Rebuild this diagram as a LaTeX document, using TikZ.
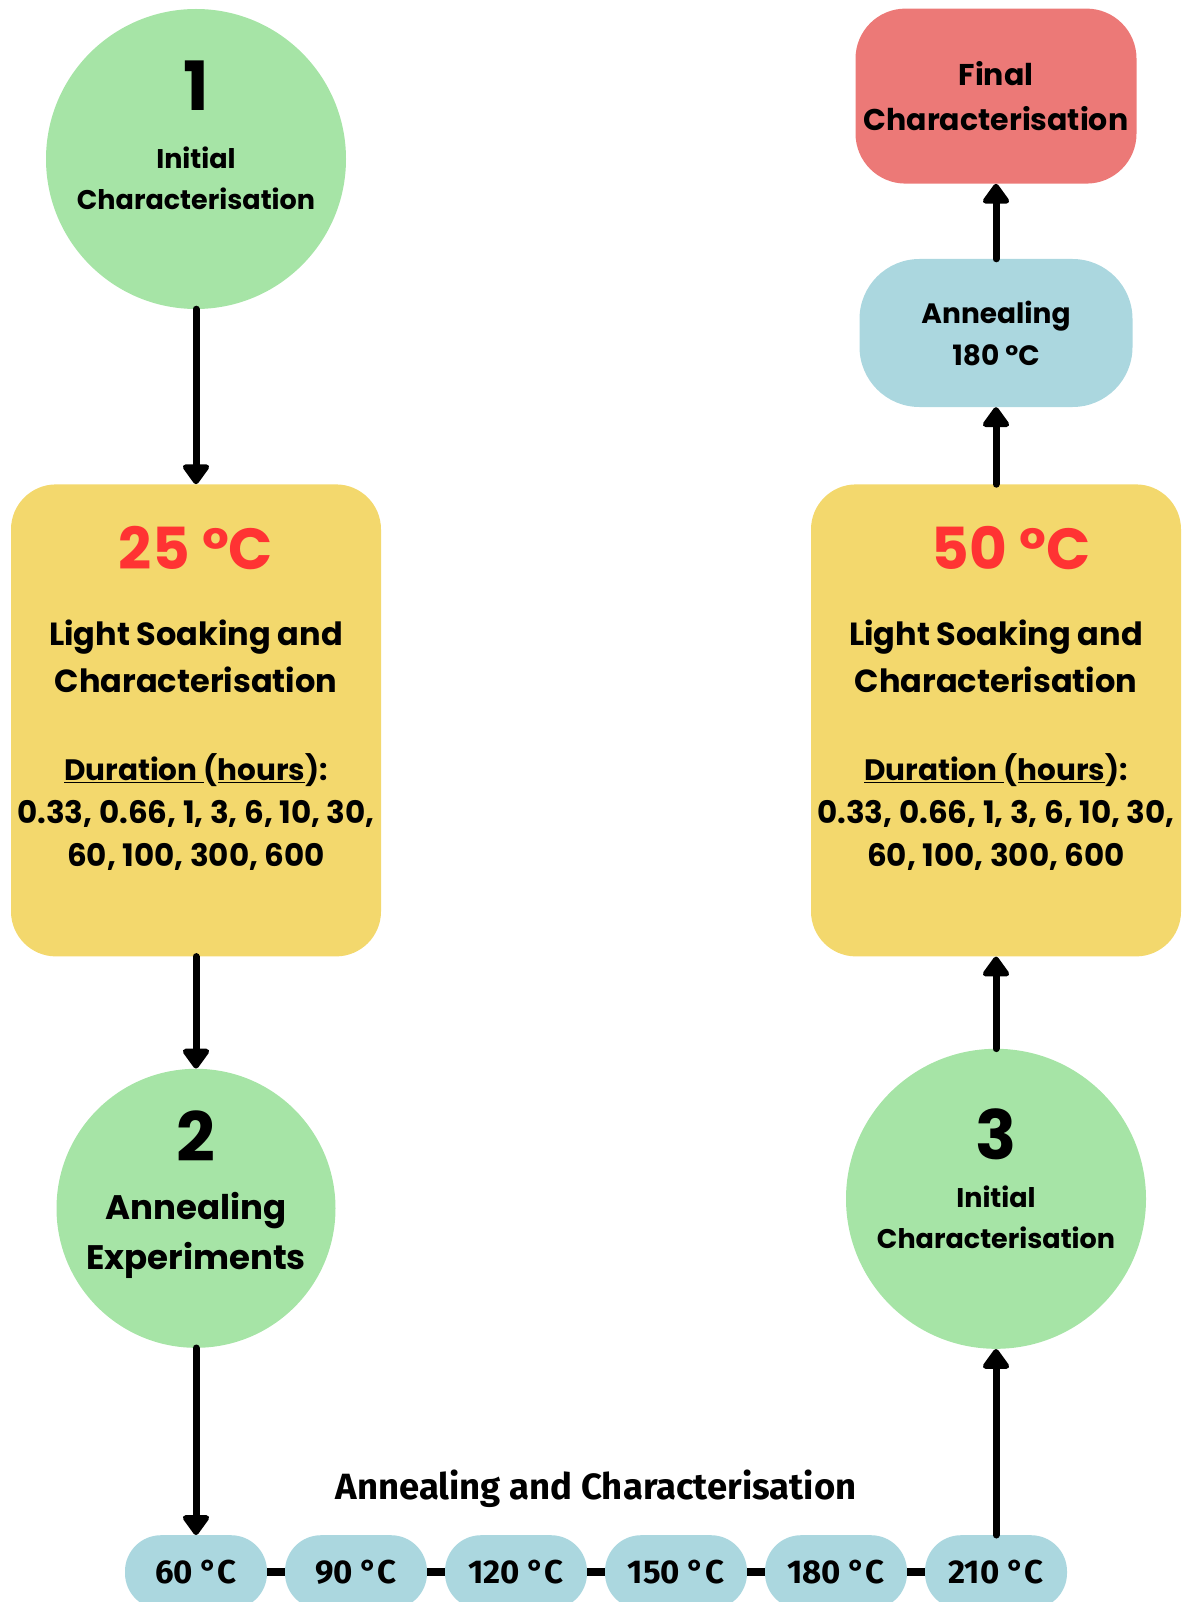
\documentclass[tikz,border=0pt]{standalone}
\usepackage{fontspec}
\setmainfont{Poppins}
\newfontfamily\platefont{Fira Sans}
\usetikzlibrary{positioning, arrows.meta, calc}

\definecolor{stagegreen}{HTML}{A6E4A6}
\definecolor{soakyellow}{HTML}{F3D86D}
\definecolor{finalred}{HTML}{EC7977}
\definecolor{annealblue}{HTML}{ABD7DF}
\definecolor{tempred}{HTML}{FF3333}

\begin{document}
\begin{tikzpicture}[
  x=1pt, y=1pt,
  stage/.style={circle, fill=stagegreen, minimum size=300pt, inner sep=0pt},
  soak/.style={rectangle, rounded corners=45pt, fill=soakyellow,
               minimum width=370pt, minimum height=472pt},
  holdbox/.style={rectangle, rounded corners=60pt, fill=annealblue,
               minimum width=273pt, minimum height=148pt, align=center,
               font=\bfseries\fontsize{28}{42}\selectfont},
  finalbox/.style={rectangle, rounded corners=50pt, fill=finalred,
                minimum width=281pt, minimum height=175pt, align=center,
                font=\bfseries\fontsize{30}{45}\selectfont},
  pill/.style={rectangle, rounded corners=36pt, fill=annealblue,
               minimum width=142pt, minimum height=74pt,
               font=\platefont\bfseries\fontsize{33}{38}\selectfont},
  stagenum/.style={inner sep=0pt, font=\bfseries\fontsize{68}{68}\selectfont},
  stagecap/.style={inner sep=0pt, align=center, font=\bfseries\fontsize{27}{41}\selectfont},
  bigcap/.style={inner sep=0pt, align=center, font=\bfseries\fontsize{34}{50}\selectfont},
  templine/.style={inner sep=0pt, text=tempred, font=\bfseries\fontsize{58}{58}\selectfont},
  soakhead/.style={inner sep=0pt, align=center, font=\bfseries\fontsize{32}{47}\selectfont},
  durlist/.style={inner sep=0pt, align=center, font=\bfseries\fontsize{31}{43}\selectfont},
  platehdr/.style={inner sep=0pt, font=\platefont\bfseries\fontsize{36.5}{40}\selectfont},
  flow/.style={-{Triangle[width=30pt, length=22pt, round]}, line width=7pt, line cap=round},
  link/.style={line width=8pt},
]
\useasboundingbox (0,0) rectangle (1186,-1602);

% ------------------- LEFT COLUMN (25 C run) -------------------
\node[stage] (init1) at (196,-159) {};
\node[stagenum, below=52pt of init1.north] (init1num) {1};
\node[stagecap, below=36pt of init1num] (init1cap) {Initial\\Characterisation};

\node[soak, below=175pt of init1] (soak25) {};
\node[templine, below=42pt of soak25.north] (soak25temp) {25 °C};
\node[soakhead, below=50pt of soak25temp] (soak25head) {Light Soaking and\\Characterisation};
\node[durlist, below=60pt of soak25head] (soak25dur)
  {{\fontsize{29.5}{43}\selectfont\underline{Duration\ }(\underline{hours}):}\\0.33, 0.66, 1, 3, 6, 10, 30,\\60, 100, 300, 600};

\node[stage, minimum size=279pt, below=112pt of soak25] (anneal) {};
\node[stagenum, below=42pt of anneal.north] (annealnum) {2};
\node[bigcap, below=30pt of annealnum] (annealcap) {Annealing\\Experiments};

\draw[flow] (init1) -- (soak25);
\draw[flow] (soak25) -- (anneal);

% ------------------- ANNEALING STEPS (bottom row) -------------------
\node[pill, below=187pt of anneal] (t60) {60 °C};
\node[pill, right=17.6pt of t60] (t90) {90 °C};
\node[pill, right=17.6pt of t90] (t120) {120 °C};
\node[pill, right=17.6pt of t120] (t150) {150 °C};
\node[pill, right=17.6pt of t150] (t180) {180 °C};
\node[pill, right=17.6pt of t180] (t210) {210 °C};

\node[platehdr, above=27pt of $(t120.north)!0.5!(t150.north)$] (steps) {Annealing and Characterisation};

\draw[flow] (anneal) -- (t60);
\draw[link] (t60) -- (t90);
\draw[link] (t90) -- (t120);
\draw[link] (t120) -- (t150);
\draw[link] (t150) -- (t180);
\draw[link] (t180) -- (t210);

% ------------------- RIGHT COLUMN (50 C run) -------------------
\node[stage, above=186pt of t210] (init3) {};
\node[stagenum, below=60pt of init3.north] (init3num) {3};
\node[stagecap, below=25pt of init3num] (init3cap) {Initial\\Characterisation};

\node[soak, above=92pt of init3] (soak50) {};
\node[templine, below=42pt of soak50.north, xshift=15pt] (soak50temp) {50 °C};
\node[soakhead, below=50pt of soak50.north |- soak50temp.south] (soak50head) {Light Soaking and\\Characterisation};
\node[durlist, below=60pt of soak50head] (soak50dur)
  {{\fontsize{29.5}{43}\selectfont\underline{Duration\ }(\underline{hours}):}\\0.33, 0.66, 1, 3, 6, 10, 30,\\60, 100, 300, 600};

\node[holdbox, above=77pt of soak50] (ann180) {Annealing\\180 °C};
\node[finalbox, above=75pt of ann180] (final) {Final\\Characterisation};

\draw[flow] (t210) -- (init3);
\draw[flow] (init3) -- (soak50);
\draw[flow] (soak50) -- (ann180);
\draw[flow] (ann180) -- (final);

\end{tikzpicture}
\end{document}
